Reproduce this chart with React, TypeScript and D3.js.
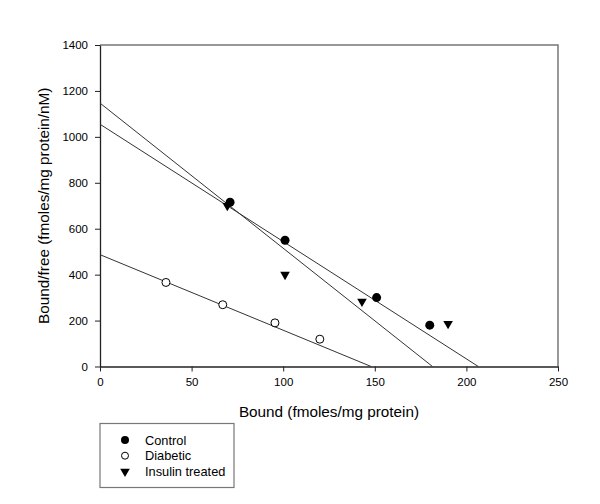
import * as d3 from 'd3';
import { useEffect, useRef } from 'react';

// Scatchard data
const controlBound = [71, 101, 151, 180];
const controlRatio = [715, 550, 300, 180];
const diabeticBound = [36, 67, 95.5, 120];
const diabeticRatio = [366, 269, 190, 119];
const insulinBound = [69.5, 101, 143, 190];
const insulinRatio = [700, 400, 283, 186];

// fitted regression lines: y-intercept and x-intercept
const fitNames = ['Control', 'Diabetic', 'Insulin treated'];
const fitYIntercept = [1055, 487, 1147];
const fitXIntercept = [206.5, 148, 181.5];

const xTicks = [0, 50, 100, 150, 200, 250];
const yTicks = [0, 200, 400, 600, 800, 1000, 1200, 1400];
const legendLabels = ['Control', 'Diabetic', 'Insulin treated'];

const FONT = 'Arial, "Liberation Sans", sans-serif';

export default function App() {
  const svgRef = useRef<SVGSVGElement>(null);

  useEffect(() => {
    drawChart(svgRef.current as SVGSVGElement);
  }, [svgRef]);

  return (
    <svg ref={svgRef} width={600} height={504}
      style={{ position: 'absolute', left: 0, top: 0, background: '#fff' }} />
  );
}

function drawChart(el: SVGSVGElement) {
  const svg = d3.select(el);
  svg.selectAll('*').remove();

  const left = 100, right = 558, top = 45, bottom = 366.5;

  const x = d3.scaleLinear().domain([0, 250]).range([left, right]);
  const y = d3.scaleLinear().domain([0, 1400]).range([bottom, top]);

  // frame top/right
  svg.append('path')
    .attr('d', `M${left},${top}H${right}V${bottom}`)
    .attr('fill', 'none')
    .attr('stroke', '#777')
    .attr('stroke-width', 1.5);

  const xAxis = svg.append('g')
    .attr('transform', `translate(0,${bottom})`)
    .call(d3.axisBottom(x).tickValues(xTicks).tickFormat(d3.format('d'))
      .tickSize(5).tickPadding(6).tickSizeOuter(0));
  const yAxis = svg.append('g')
    .attr('transform', `translate(${left},0)`)
    .call(d3.axisLeft(y).tickValues(yTicks).tickFormat(d3.format('d'))
      .tickSize(5).tickPadding(7).tickSizeOuter(0));

  for (const ax of [xAxis, yAxis]) {
    ax.selectAll('text').attr('font-family', FONT).attr('font-size', 11.5).attr('fill', '#000');
    ax.selectAll('line').attr('stroke', '#222');
    ax.select('.domain').attr('stroke', '#222').attr('stroke-width', 1.3);
  }

  // regression lines
  fitNames.forEach((_, i) => {
    svg.append('line')
      .attr('x1', x(0)).attr('y1', y(fitYIntercept[i]))
      .attr('x2', x(fitXIntercept[i])).attr('y2', y(0))
      .attr('stroke', '#333')
      .attr('stroke-width', 1);
  });

  const tri = d3.symbol().type(d3.symbolTriangle).size(40);

  svg.selectAll('.ctrl')
    .data(controlBound)
    .enter()
    .append('circle')
    .attr('cx', d => x(d))
    .attr('cy', (d, i) => y(controlRatio[i]))
    .attr('r', 4.5)
    .attr('fill', '#000');

  svg.selectAll('.diab')
    .data(diabeticBound)
    .enter()
    .append('circle')
    .attr('cx', d => x(d))
    .attr('cy', (d, i) => y(diabeticRatio[i]))
    .attr('r', 4)
    .attr('fill', '#fff')
    .attr('stroke', '#000')
    .attr('stroke-width', 1);

  svg.selectAll('.ins')
    .data(insulinBound)
    .enter()
    .append('path')
    .attr('d', tri)
    .attr('transform', (d, i) => `translate(${x(d)},${y(insulinRatio[i])}) rotate(180)`)
    .attr('fill', '#000');

  // axis titles
  svg.append('text')
    .attr('x', (left + right) / 2)
    .attr('y', 417)
    .attr('text-anchor', 'middle')
    .attr('font-family', FONT)
    .attr('font-size', 15.3)
    .text('Bound (fmoles/mg protein)');

  svg.append('text')
    .attr('transform', `translate(48.5,${(top + bottom) / 2}) rotate(-90)`)
    .attr('text-anchor', 'middle')
    .attr('font-family', FONT)
    .attr('font-size', 15.3)
    .text('Bound/free (fmoles/mg protein/nM)');

  // legend
  const lg = svg.append('g').attr('transform', 'translate(100,423.5)');
  lg.append('rect')
    .attr('width', 134).attr('height', 64)
    .attr('fill', '#fff')
    .attr('stroke', '#777')
    .attr('stroke-width', 1.2);

  legendLabels.forEach((lab, i) => {
    const cy = 16.5 + i * 15.7;
    if (i === 0) {
      lg.append('circle').attr('cx', 25).attr('cy', cy).attr('r', 4).attr('fill', '#000');
    } else if (i === 1) {
      lg.append('circle').attr('cx', 25).attr('cy', cy).attr('r', 3.5)
        .attr('fill', '#fff').attr('stroke', '#000');
    } else {
      lg.append('path').attr('d', tri)
        .attr('transform', `translate(25,${cy}) rotate(180)`).attr('fill', '#000');
    }
    lg.append('text')
      .attr('x', 45).attr('y', cy + 4.5)
      .attr('font-family', FONT)
      .attr('font-size', 12.8)
      .text(lab);
  });
}
